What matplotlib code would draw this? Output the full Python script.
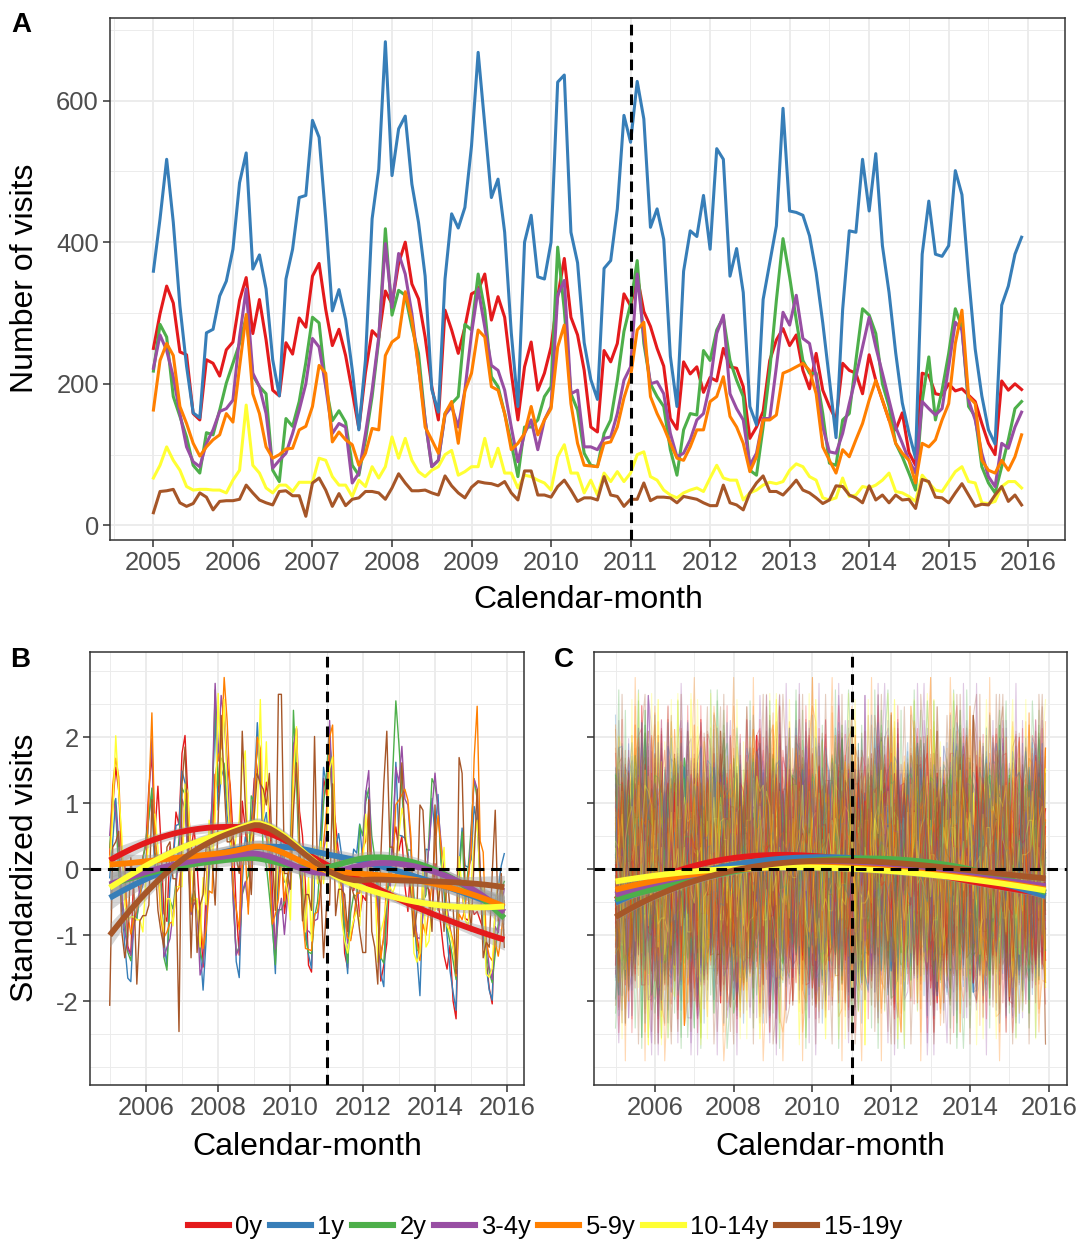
import numpy as np
import matplotlib
matplotlib.use("Agg")
import matplotlib.pyplot as plt
from matplotlib.lines import Line2D

plt.rcParams['font.family'] = ['Liberation Sans', 'DejaVu Sans']

# ---------------- data (monthly visits, Jan 2005 .. Dec 2015) ----------------
groups = ["0y", "1y", "2y", "3-4y", "5-9y", "10-14y", "15-19y"]
colors = ["#E41A1C", "#377EB8", "#4DAF4A", "#984EA3", "#FF7F00", "#FFFF33", "#A65628"]
start_year = 2005

v_0y = [250, 299, 338, 314, 245, 241, 158, 149, 234, 229, 211, 248,
        259, 318, 350, 271, 319, 262, 191, 183, 258, 242, 293, 280,
        352, 370, 305, 254, 277, 240, 189, 137, 216, 275, 265, 331,
        313, 370, 400, 341, 320, 266, 196, 149, 304, 276, 243, 280,
        327, 332, 355, 290, 323, 294, 215, 149, 224, 259, 191, 215,
        252, 323, 377, 294, 269, 219, 139, 132, 247, 231, 257, 327,
        310, 352, 302, 281, 250, 225, 151, 136, 231, 214, 224, 188,
        209, 204, 250, 224, 222, 196, 123, 139, 161, 233, 262, 278,
        254, 269, 219, 193, 243, 191, 168, 149, 229, 219, 215, 186,
        241, 205, 177, 149, 135, 159, 103, 85, 215, 212, 186, 184,
        200, 190, 193, 184, 175, 144, 116, 100, 204, 191, 200, 192]
v_1y = [359, 433, 517, 428, 310, 225, 159, 152, 272, 277, 324, 345,
        390, 484, 526, 362, 382, 334, 234, 183, 348, 390, 463, 466,
        572, 548, 433, 303, 333, 291, 220, 135, 234, 433, 503, 683,
        494, 560, 578, 482, 428, 352, 192, 160, 348, 440, 420, 449,
        536, 668, 565, 463, 489, 414, 272, 168, 400, 438, 351, 348,
        400, 626, 636, 414, 371, 258, 206, 178, 363, 374, 447, 579,
        541, 627, 574, 421, 447, 404, 239, 168, 359, 416, 408, 466,
        390, 532, 517, 352, 391, 329, 168, 142, 319, 371, 423, 589,
        444, 442, 438, 409, 357, 286, 206, 124, 305, 416, 414, 517,
        444, 525, 395, 329, 244, 173, 131, 95, 383, 458, 383, 380,
        395, 501, 467, 352, 249, 183, 135, 115, 311, 338, 383, 407]
v_2y = [218, 284, 266, 182, 154, 125, 85, 74, 131, 128, 163, 201,
        229, 257, 294, 212, 196, 186, 78, 62, 151, 140, 175, 230,
        294, 286, 198, 148, 162, 146, 85, 71, 121, 182, 262, 419,
        297, 332, 325, 280, 243, 149, 83, 92, 158, 172, 182, 284,
        276, 355, 304, 210, 196, 158, 116, 69, 139, 139, 149, 182,
        196, 393, 304, 186, 163, 102, 85, 83, 130, 149, 205, 274,
        313, 374, 257, 200, 182, 168, 107, 71, 135, 158, 156, 247,
        233, 276, 294, 233, 205, 182, 78, 71, 139, 219, 318, 405,
        351, 290, 233, 215, 215, 158, 88, 85, 149, 158, 233, 306,
        297, 271, 200, 168, 116, 97, 74, 50, 175, 238, 149, 191,
        243, 306, 280, 168, 154, 83, 60, 46, 83, 121, 165, 175]
v_3_4y = [222, 269, 247, 210, 158, 111, 90, 83, 116, 135, 161, 165,
          177, 266, 334, 215, 196, 158, 81, 92, 102, 130, 163, 200,
          264, 252, 196, 130, 144, 139, 60, 74, 130, 191, 266, 398,
          308, 384, 355, 299, 224, 149, 83, 92, 156, 168, 139, 191,
          271, 334, 280, 226, 219, 191, 139, 90, 130, 149, 107, 149,
          168, 325, 346, 186, 191, 111, 111, 107, 123, 125, 158, 205,
          224, 355, 266, 200, 203, 186, 130, 97, 102, 121, 149, 158,
          200, 271, 297, 186, 165, 149, 85, 102, 151, 151, 224, 301,
          283, 325, 264, 257, 210, 139, 104, 102, 130, 172, 210, 252,
          294, 252, 215, 177, 139, 116, 92, 74, 175, 165, 156, 165,
          224, 287, 276, 177, 149, 102, 69, 55, 116, 109, 139, 160]
v_5_9y = [163, 233, 257, 240, 168, 144, 116, 98, 111, 121, 128, 158,
          146, 224, 298, 186, 158, 111, 95, 100, 108, 109, 135, 140,
          168, 226, 215, 118, 132, 121, 114, 85, 102, 137, 135, 240,
          259, 266, 330, 290, 224, 139, 121, 102, 158, 175, 116, 190,
          215, 276, 266, 196, 191, 158, 107, 116, 130, 168, 128, 149,
          165, 252, 283, 172, 116, 85, 84, 83, 116, 118, 139, 180,
          210, 276, 287, 182, 158, 139, 116, 95, 92, 111, 135, 135,
          175, 182, 210, 154, 139, 116, 76, 97, 149, 149, 156, 215,
          219, 224, 229, 219, 186, 111, 92, 74, 107, 97, 121, 144,
          177, 205, 177, 149, 116, 102, 92, 60, 116, 111, 121, 149,
          172, 257, 304, 182, 172, 92, 78, 74, 92, 78, 97, 128]
v_10_14y = [67, 85, 111, 92, 78, 55, 50, 51, 51, 50, 50, 46,
            64, 78, 170, 85, 74, 53, 46, 57, 57, 48, 61, 61,
            61, 95, 92, 69, 57, 57, 41, 64, 55, 83, 67, 83,
            125, 95, 123, 92, 76, 69, 78, 83, 100, 106, 71, 76,
            83, 83, 123, 83, 109, 74, 74, 53, 71, 69, 64, 60,
            50, 97, 114, 74, 74, 46, 64, 43, 74, 62, 76, 62,
            74, 100, 104, 69, 64, 50, 43, 39, 46, 50, 53, 48,
            67, 85, 67, 64, 64, 36, 46, 50, 57, 61, 59, 62,
            78, 87, 83, 69, 64, 39, 36, 39, 67, 41, 43, 55,
            53, 57, 64, 74, 48, 46, 41, 34, 71, 60, 50, 48,
            62, 76, 83, 62, 60, 32, 31, 34, 55, 62, 62, 53]
v_15_19y = [18, 48, 49, 51, 32, 27, 31, 46, 40, 22, 34, 35,
            35, 37, 57, 46, 36, 32, 29, 48, 49, 42, 42, 13,
            60, 67, 50, 27, 45, 28, 37, 39, 48, 48, 46, 37,
            53, 73, 60, 49, 49, 50, 46, 43, 70, 56, 46, 39,
            54, 62, 60, 59, 56, 62, 46, 36, 77, 77, 43, 43,
            40, 55, 64, 50, 34, 39, 39, 36, 69, 43, 41, 27,
            37, 37, 60, 35, 40, 40, 39, 32, 41, 39, 37, 32,
            28, 28, 57, 32, 29, 22, 46, 60, 70, 48, 48, 43,
            53, 64, 50, 46, 39, 31, 36, 56, 55, 43, 39, 32,
            56, 36, 43, 32, 43, 36, 37, 24, 65, 62, 40, 39,
            32, 46, 59, 43, 27, 30, 29, 43, 55, 34, 43, 29]

# smooth trends (values at the years below)
c_years = [2005, 2006.5, 2008, 2009.5, 2011, 2012.5, 2014, 2015.92]
c_0y = [-0.42, -0.12, 0.15, 0.28, 0.19, -0.05, -0.22, -0.35]
c_1y = [-0.47, -0.22, 0.05, 0.20, 0.24, 0.05, -0.15, -0.38]
c_2y = [-0.42, -0.28, -0.08, 0.15, 0.23, 0.12, -0.08, -0.32]
c_3_4y = [-0.37, -0.18, 0.00, 0.08, 0.06, -0.02, -0.12, -0.25]
c_5_9y = [-0.30, -0.15, 0.00, 0.04, 0.04, -0.04, -0.15, -0.30]
c_10_14y = [-0.17, -0.09, -0.01, 0.05, 0.04, -0.07, -0.18, -0.31]
c_15_19y = [-0.70, -0.35, 0.00, 0.14, 0.13, 0.06, -0.03, -0.13]

series = [v_0y, v_1y, v_2y, v_3_4y, v_5_9y, v_10_14y, v_15_19y]
c_series = [c_0y, c_1y, c_2y, c_3_4y, c_5_9y, c_10_14y, c_15_19y]

n = len(v_0y)
xm = start_year + np.arange(n) / 12.0
zs = []
for s in series:
    z = (np.array(s, float) - np.mean(s)) / np.std(s, ddof=1)
    z[np.abs(z) > 3] = np.nan          # standardized values beyond +-3 are dropped
    zs.append(z)

# ---------------- helpers ----------------
def loess(xd, yd, xg, span=0.75):
    ok = np.isfinite(yd)
    xd, yd = xd[ok], yd[ok]
    xc = xd.mean()
    xd0 = xd - xc
    xg0 = xg - xc
    nn = len(xd)
    q = int(np.floor(nn * span))
    A = np.vstack([np.ones_like(xd0), xd0, xd0 ** 2]).T

    def rows(pts):
        out = []
        for x0 in pts:
            d = np.abs(xd0 - x0)
            h = np.sort(d)[q - 1]
            w = np.clip(1 - (d / h) ** 3, 0, None) ** 3
            AW = A * w[:, None]
            M = A.T @ AW
            out.append(np.array([1, x0, x0 ** 2]) @ np.linalg.solve(M, AW.T))
        return np.array(out)

    Lg = rows(xg0)
    Ld = rows(xd0)
    fit = Lg @ yd
    res = yd - Ld @ yd
    sig2 = np.sum(res ** 2) / (nn - np.trace(Ld))
    se = np.sqrt(sig2 * np.sum(Lg ** 2, axis=1))
    return fit, se

GRID = "#EBEBEB"
BORDER = "#333333"
TICKC = "#4D4D4D"
TS = 18.4
TITLE = 23

def style(ax, xmaj, xmin, ymaj, ymin, xlim, ylim):
    ax.set_xlim(xlim)
    ax.set_ylim(ylim)
    ax.set_xticks(xmaj)
    ax.set_xticks([v for v in xmin if xlim[0] <= v <= xlim[1]], minor=True)
    ax.set_yticks(ymaj)
    ax.set_yticks([v for v in ymin if ylim[0] <= v <= ylim[1]], minor=True)
    ax.grid(True, which="major", color=GRID, lw=1.3)
    ax.grid(True, which="minor", color=GRID, lw=0.65)
    ax.set_axisbelow(True)
    for sp in ax.spines.values():
        sp.set_color(BORDER)
        sp.set_linewidth(1.1)
    ax.tick_params(which="major", direction="out", length=5, width=1.1,
                   color=BORDER, labelcolor=TICKC, labelsize=TS, pad=3)
    ax.tick_params(which="minor", length=0)

def dash(ax, x=None, y=None):
    kw = dict(color="black", lw=2.2, dashes=(3.5, 2.2), zorder=5)
    if x is not None:
        ax.axvline(x, **kw)
    if y is not None:
        ax.axhline(y, **kw)

# ---------------- figure ----------------
W, H = 1083, 1241
fig = plt.figure(figsize=(W / 100, H / 100), dpi=100)

def rect(l, t, r, b):
    return [l / W, 1 - b / H, (r - l) / W, (b - t) / H]

span = xm[-1] - xm[0]
xlim = (xm[0] - 0.05 * span, xm[-1] + 0.05 * span)

# Panel A
axA = fig.add_axes(rect(110, 18, 1065, 540))
allv = np.concatenate([np.array(s) for s in series])
yr = allv.max() - allv.min()
ylimA = (allv.min() - 0.05 * yr, allv.max() + 0.05 * yr)
for s, c in zip(series, colors):
    axA.plot(xm, s, color=c, lw=2.2, solid_joinstyle="round")
dash(axA, x=2011)
style(axA, np.arange(2005, 2017), np.arange(2004.5, 2016.6, 1.0),
      np.arange(0, 601, 200), np.arange(100, 801, 200), xlim, ylimA)
axA.set_xticklabels([str(v) for v in range(2005, 2017)])
axA.set_yticklabels(["0", "200", "400", "600"])

# Panel B and C shared y range
ylimBC = (-3.27, 3.29)
xg = np.linspace(xm[0], xm[-1], 80)

axB = fig.add_axes(rect(90, 652, 524, 1085))
for z, c in zip(zs, colors):
    axB.plot(xm, z, color=c, lw=1.0)
for z, c in zip(zs, colors):
    fit, se = loess(xm, z, xg)
    band = 0.3 * 1.96 * se
    axB.fill_between(xg, fit - band, fit + band, color="#999999",
                     alpha=0.4, lw=0, zorder=3)
    axB.plot(xg, fit, color=c, lw=4.2, zorder=4, solid_capstyle="butt")
dash(axB, x=2011, y=0)
style(axB, np.arange(2006, 2017, 2), np.arange(2005, 2016, 2),
      np.arange(-2, 3), np.arange(-3, 3.01, 0.5), xlim, ylimBC)
axB.set_xticklabels([str(v) for v in range(2006, 2017, 2)])
axB.set_yticklabels(["-2", "-1", "0", "1", "2"])

# Panel C: many reshuffled (index-permuted, alternately mirrored) standardized series
axC = fig.add_axes(rect(594, 652, 1067, 1085))
mults = [5, 7, 13, 17, 19, 23, 25, 29, 31, 35, 37, 41, 43, 47, 49, 53,
         59, 61, 65, 67, 71, 73, 79, 83]
k = np.arange(n)
for j, a in enumerate(mults):
    sign = 1 if j % 2 == 0 else -1
    for si, (z, c) in enumerate(zip(zs, colors)):
        perm = (a * k + 11 * si + 3 * j) % n
        axC.plot(xm, sign * z[perm], color=c, lw=0.8, alpha=0.3)
cg = np.linspace(c_years[0], c_years[-1], 80)
for cs, c in zip(c_series, colors):
    p = np.polyfit(c_years, cs, 3)
    fit = np.polyval(p, cg)
    axC.fill_between(cg, fit - 0.05, fit + 0.05, color="#999999", alpha=0.4,
                     lw=0, zorder=3)
    axC.plot(cg, fit, color=c, lw=4.2, zorder=4, solid_capstyle="butt")
dash(axC, x=2011, y=0)
style(axC, np.arange(2006, 2017, 2), np.arange(2005, 2016, 2),
      np.arange(-2, 3), np.arange(-3, 3.01, 0.5), xlim, ylimBC)
axC.set_xticklabels([str(v) for v in range(2006, 2017, 2)])
axC.set_yticklabels([])

# titles and panel letters
def ftext(x, y, s, **kw):
    fig.text(x / W, 1 - y / H, s, ha="center", va="center", **kw)

ftext(25, 278, "Number of visits", fontsize=TITLE, rotation=90)
ftext(588, 600, "Calendar-month", fontsize=TITLE)
ftext(25, 868, "Standardized visits", fontsize=TITLE, rotation=90)
ftext(307, 1147, "Calendar-month", fontsize=TITLE)
ftext(830, 1147, "Calendar-month", fontsize=TITLE)
ftext(21, 25, "A", fontsize=20, fontweight="bold")
ftext(20, 660, "B", fontsize=20, fontweight="bold")
ftext(564, 660, "C", fontsize=20, fontweight="bold")

# legend
handles = [Line2D([0], [0], color=c, lw=4.4) for c in colors]
fig.legend(handles, groups, loc="center", bbox_to_anchor=(545 / W, 1 - 1227 / H),
           ncol=7, frameon=False, fontsize=TS, handlelength=1.6,
           handletextpad=0.25, columnspacing=0.3, borderpad=0)

fig.savefig("out.png", dpi=100)
